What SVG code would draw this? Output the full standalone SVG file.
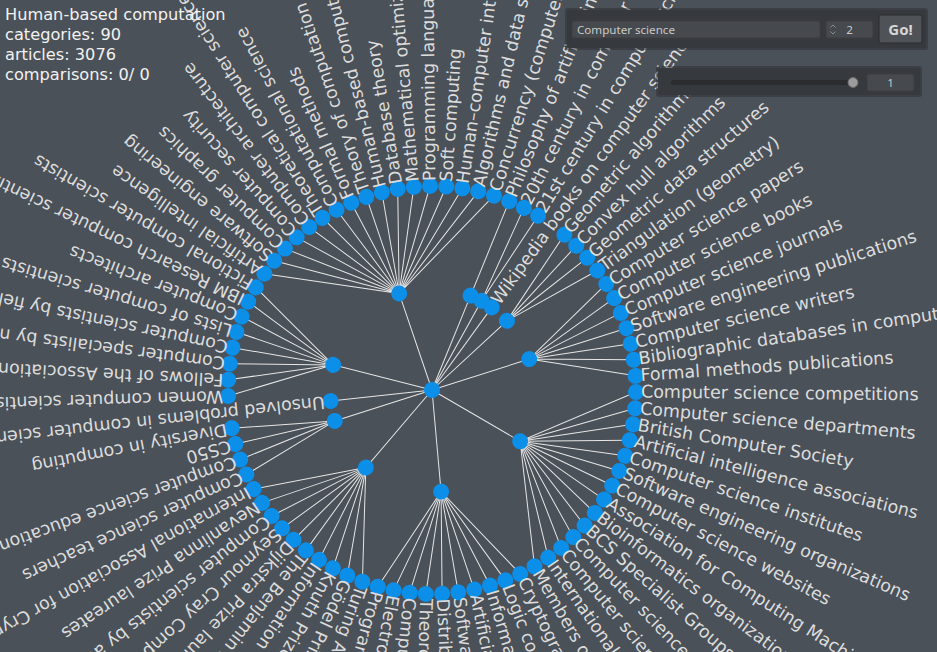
<svg xmlns="http://www.w3.org/2000/svg" xmlns:xlink="http://www.w3.org/1999/xlink" width="937" height="652" viewBox="0 0 937 652">
<style>
.lbl{font-family:"DejaVu Sans",sans-serif;font-size:17.5px;fill:#dcdcdc}
.info{font-family:"DejaVu Sans",sans-serif;font-size:16.2px;fill:#f2f2f2}
.ui{font-family:"Noto Sans","DejaVu Sans",sans-serif;font-size:11.6px;fill:#c9c9c9}
.n{fill:#0b8fe9}
</style>
<defs>
<path id="fan0" d="M432 390H534"/>
<path id="fan1" d="M432 390H534L636 390"/>
<path id="fan2" d="M432 390H534L635.84 381.89M534 390L635.84 398.11"/>
<path id="fan4" d="M432 390H534L634.55 365.72M534 390L635.84 381.89M534 390L635.84 398.11M534 390L634.55 414.28"/>
<path id="fan7" d="M432 390H534L630.22 341.79M534 390L633.43 357.69M534 390L635.36 373.79M534 390L636 390M534 390L635.36 406.21M534 390L633.43 422.31M534 390L630.22 438.21"/>
<path id="fan8" d="M432 390H534L628.15 333.94M534 390L631.98 349.7M534 390L634.55 365.72M534 390L635.84 381.89M534 390L635.84 398.11M534 390L634.55 414.28M534 390L631.98 430.3M534 390L628.15 446.06"/>
<path id="fan10" d="M432 390H534L623.07 318.54M534 390L628.15 333.94M534 390L631.98 349.7M534 390L634.55 365.72M534 390L635.84 381.89M534 390L635.84 398.11M534 390L634.55 414.28M534 390L631.98 430.3M534 390L628.15 446.06M534 390L623.07 461.46"/>
<path id="fan14" d="M432 390H534L609.34 289.17M534 390L616.79 303.58M534 390L623.07 318.54M534 390L628.15 333.94M534 390L631.98 349.7M534 390L634.55 365.72M534 390L635.84 381.89M534 390L635.84 398.11M534 390L634.55 414.28M534 390L631.98 430.3M534 390L628.15 446.06M534 390L623.07 461.46M534 390L616.79 476.42M534 390L609.34 490.83"/>
<path id="fan17" d="M432 390H534L596.08 268.78M534 390L605.19 282.2M534 390L613.21 296.3M534 390L620.08 311M534 390L625.76 326.19M534 390L630.22 341.79M534 390L633.43 357.69M534 390L635.36 373.79M534 390L636 390M534 390L635.36 406.21M534 390L633.43 422.31M534 390L630.22 438.21M534 390L625.76 453.81M534 390L620.08 469M534 390L613.21 483.7M534 390L605.19 497.8M534 390L596.08 511.22"/>
</defs>
<rect width="937" height="652" fill="#4b5158"/>

<g id="connectors" fill="none" stroke="#e6e6e6" stroke-width="1">
<use href="#fan17" transform="rotate(-108.784 432 390)"/>
<use href="#fan1" transform="rotate(-67.771 432 390)"/>
<use href="#fan2" transform="rotate(-60.936 432 390)"/>
<use href="#fan0" transform="rotate(-54.1 432 390)"/>
<use href="#fan4" transform="rotate(-42.708 432 390)"/>
<use href="#fan7" transform="rotate(-17.644 432 390)"/>
<use href="#fan14" transform="rotate(30.205 432 390)"/>
<use href="#fan10" transform="rotate(84.889 432 390)"/>
<use href="#fan10" transform="rotate(130.459 432 390)"/>
<use href="#fan4" transform="rotate(162.358 432 390)"/>
<use href="#fan0" transform="rotate(173.75 432 390)"/>
<use href="#fan8" transform="rotate(-165.747 432 390)"/>
</g>

<g id="inner-nodes">
<g id="node-root"><circle class="n" cx="432" cy="390" r="8"/></g>
<g id="node-areas" transform="rotate(-108.784 432 390)"><circle class="n" cx="534" cy="390" r="8"/></g>
<g id="node-philosophy" transform="rotate(-67.771 432 390)"><circle class="n" cx="534" cy="390" r="8"/></g>
<g id="node-history" transform="rotate(-60.936 432 390)"><circle class="n" cx="534" cy="390" r="8"/></g>
<g id="node-wikipedia-books" transform="rotate(-54.1 432 390)"><circle class="n" cx="534" cy="390" r="8"/><text class="lbl" x="540" y="395.5">Wikipedia books on computer science</text></g>
<g id="node-geometry" transform="rotate(-42.708 432 390)"><circle class="n" cx="534" cy="390" r="8"/></g>
<g id="node-literature" transform="rotate(-17.644 432 390)"><circle class="n" cx="534" cy="390" r="8"/></g>
<g id="node-organizations" transform="rotate(30.205 432 390)"><circle class="n" cx="534" cy="390" r="8"/></g>
<g id="node-conferences" transform="rotate(84.889 432 390)"><circle class="n" cx="534" cy="390" r="8"/></g>
<g id="node-awards" transform="rotate(130.459 432 390)"><circle class="n" cx="534" cy="390" r="8"/></g>
<g id="node-education" transform="rotate(162.358 432 390)"><circle class="n" cx="534" cy="390" r="8"/></g>
<g id="node-unsolved" transform="rotate(173.75 432 390)"><circle class="n" cx="534" cy="390" r="8"/><text class="lbl" x="540" y="395.5">Unsolved problems in computer science</text></g>
<g id="node-scientists" transform="rotate(-165.747 432 390)"><circle class="n" cx="534" cy="390" r="8"/></g>
</g>

<g id="leaves">
<g id="leaf-m28" transform="rotate(-181.70 432 390)"><circle class="n" cx="636" cy="390" r="8"/><text class="lbl" x="641" y="395.5">Women computer scientists</text></g>
<g id="leaf-m27" transform="rotate(-177.14 432 390)"><circle class="n" cx="636" cy="390" r="8"/><text class="lbl" x="641" y="395.5">Fellows of the Association for Computing Machinery</text></g>
<g id="leaf-m26" transform="rotate(-172.58 432 390)"><circle class="n" cx="636" cy="390" r="8"/><text class="lbl" x="641" y="395.5">Computer specialists by nationality</text></g>
<g id="leaf-m25" transform="rotate(-168.03 432 390)"><circle class="n" cx="636" cy="390" r="8"/><text class="lbl" x="641" y="395.5">Computer scientists by field</text></g>
<g id="leaf-m24" transform="rotate(-163.47 432 390)"><circle class="n" cx="636" cy="390" r="8"/><text class="lbl" x="641" y="395.5">Lists of computer scientists</text></g>
<g id="leaf-m23" transform="rotate(-158.91 432 390)"><circle class="n" cx="636" cy="390" r="8"/><text class="lbl" x="641" y="395.5">Computer architects</text></g>
<g id="leaf-m22" transform="rotate(-154.36 432 390)"><circle class="n" cx="636" cy="390" r="8"/><text class="lbl" x="641" y="395.5">IBM Research computer scientists</text></g>
<g id="leaf-m21" transform="rotate(-149.80 432 390)"><circle class="n" cx="636" cy="390" r="8"/><text class="lbl" x="641" y="395.5">Fictional computer scientists</text></g>
<g id="leaf-m20" transform="rotate(-145.24 432 390)"><circle class="n" cx="636" cy="390" r="8"/><text class="lbl" x="641" y="395.5">Artificial intelligence</text></g>
<g id="leaf-m19" transform="rotate(-140.68 432 390)"><circle class="n" cx="636" cy="390" r="8"/><text class="lbl" x="641" y="395.5">Software engineering</text></g>
<g id="leaf-m18" transform="rotate(-136.13 432 390)"><circle class="n" cx="636" cy="390" r="8"/><text class="lbl" x="641" y="395.5">Computer graphics</text></g>
<g id="leaf-m17" transform="rotate(-131.57 432 390)"><circle class="n" cx="636" cy="390" r="8"/><text class="lbl" x="641" y="395.5">Computer security</text></g>
<g id="leaf-m16" transform="rotate(-127.01 432 390)"><circle class="n" cx="636" cy="390" r="8"/><text class="lbl" x="641" y="395.5">Computer architecture</text></g>
<g id="leaf-m15" transform="rotate(-122.46 432 390)"><circle class="n" cx="636" cy="390" r="8"/><text class="lbl" x="641" y="395.5">Theoretical computer science</text></g>
<g id="leaf-m14" transform="rotate(-117.90 432 390)"><circle class="n" cx="636" cy="390" r="8"/><text class="lbl" x="641" y="395.5">Computational science</text></g>
<g id="leaf-m13" transform="rotate(-113.34 432 390)"><circle class="n" cx="636" cy="390" r="8"/><text class="lbl" x="641" y="395.5">Formal methods</text></g>
<g id="leaf-m12" transform="rotate(-108.78 432 390)"><circle class="n" cx="636" cy="390" r="8"/><text class="lbl" x="641" y="395.5">Theory of computation</text></g>
<g id="leaf-m11" transform="rotate(-104.23 432 390)"><circle class="n" cx="636" cy="390" r="8"/><text class="lbl" x="641" y="395.5">Human-based computation</text></g>
<g id="leaf-m10" transform="rotate(-99.67 432 390)"><circle class="n" cx="636" cy="390" r="8"/><text class="lbl" x="641" y="395.5">Database theory</text></g>
<g id="leaf-m9" transform="rotate(-95.11 432 390)"><circle class="n" cx="636" cy="390" r="8"/><text class="lbl" x="641" y="395.5">Mathematical optimization</text></g>
<g id="leaf-m8" transform="rotate(-90.56 432 390)"><circle class="n" cx="636" cy="390" r="8"/><text class="lbl" x="641" y="395.5">Programming languages</text></g>
<g id="leaf-m7" transform="rotate(-86.00 432 390)"><circle class="n" cx="636" cy="390" r="8"/><text class="lbl" x="641" y="395.5">Soft computing</text></g>
<g id="leaf-m6" transform="rotate(-81.44 432 390)"><circle class="n" cx="636" cy="390" r="8"/><text class="lbl" x="641" y="395.5">Human–computer interaction</text></g>
<g id="leaf-m5" transform="rotate(-76.89 432 390)"><circle class="n" cx="636" cy="390" r="8"/><text class="lbl" x="641" y="395.5">Algorithms and data structures</text></g>
<g id="leaf-m4" transform="rotate(-72.33 432 390)"><circle class="n" cx="636" cy="390" r="8"/><text class="lbl" x="641" y="395.5">Concurrency (computer science)</text></g>
<g id="leaf-m3" transform="rotate(-67.77 432 390)"><circle class="n" cx="636" cy="390" r="8"/><text class="lbl" x="641" y="395.5">Philosophy of artificial intelligence</text></g>
<g id="leaf-m2" transform="rotate(-63.21 432 390)"><circle class="n" cx="636" cy="390" r="8"/><text class="lbl" x="641" y="395.5">20th century in computer science</text></g>
<g id="leaf-m1" transform="rotate(-58.66 432 390)"><circle class="n" cx="636" cy="390" r="8"/><text class="lbl" x="641" y="395.5">21st century in computer science</text></g>
<g id="leaf-p1" transform="rotate(-49.54 432 390)"><circle class="n" cx="636" cy="390" r="8"/><text class="lbl" x="641" y="395.5">Geometric algorithms</text></g>
<g id="leaf-p2" transform="rotate(-44.99 432 390)"><circle class="n" cx="636" cy="390" r="8"/><text class="lbl" x="641" y="395.5">Convex hull algorithms</text></g>
<g id="leaf-p3" transform="rotate(-40.43 432 390)"><circle class="n" cx="636" cy="390" r="8"/><text class="lbl" x="641" y="395.5">Geometric data structures</text></g>
<g id="leaf-p4" transform="rotate(-35.87 432 390)"><circle class="n" cx="636" cy="390" r="8"/><text class="lbl" x="641" y="395.5">Triangulation (geometry)</text></g>
<g id="leaf-p5" transform="rotate(-31.32 432 390)"><circle class="n" cx="636" cy="390" r="8"/><text class="lbl" x="641" y="395.5">Computer science papers</text></g>
<g id="leaf-p6" transform="rotate(-26.76 432 390)"><circle class="n" cx="636" cy="390" r="8"/><text class="lbl" x="641" y="395.5">Computer science books</text></g>
<g id="leaf-p7" transform="rotate(-22.20 432 390)"><circle class="n" cx="636" cy="390" r="8"/><text class="lbl" x="641" y="395.5">Computer science journals</text></g>
<g id="leaf-p8" transform="rotate(-17.64 432 390)"><circle class="n" cx="636" cy="390" r="8"/><text class="lbl" x="641" y="395.5">Software engineering publications</text></g>
<g id="leaf-p9" transform="rotate(-13.09 432 390)"><circle class="n" cx="636" cy="390" r="8"/><text class="lbl" x="641" y="395.5">Computer science writers</text></g>
<g id="leaf-p10" transform="rotate(-8.53 432 390)"><circle class="n" cx="636" cy="390" r="8"/><text class="lbl" x="641" y="395.5">Bibliographic databases in computer science</text></g>
<g id="leaf-p11" transform="rotate(-3.97 432 390)"><circle class="n" cx="636" cy="390" r="8"/><text class="lbl" x="641" y="395.5">Formal methods publications</text></g>
<g id="leaf-p12" transform="rotate(0.58 432 390)"><circle class="n" cx="636" cy="390" r="8"/><text class="lbl" x="641" y="395.5">Computer science competitions</text></g>
<g id="leaf-p13" transform="rotate(5.14 432 390)"><circle class="n" cx="636" cy="390" r="8"/><text class="lbl" x="641" y="395.5">Computer science departments</text></g>
<g id="leaf-p14" transform="rotate(9.70 432 390)"><circle class="n" cx="636" cy="390" r="8"/><text class="lbl" x="641" y="395.5">British Computer Society</text></g>
<g id="leaf-p15" transform="rotate(14.26 432 390)"><circle class="n" cx="636" cy="390" r="8"/><text class="lbl" x="641" y="395.5">Artificial intelligence associations</text></g>
<g id="leaf-p16" transform="rotate(18.81 432 390)"><circle class="n" cx="636" cy="390" r="8"/><text class="lbl" x="641" y="395.5">Computer science institutes</text></g>
<g id="leaf-p17" transform="rotate(23.37 432 390)"><circle class="n" cx="636" cy="390" r="8"/><text class="lbl" x="641" y="395.5">Software engineering organizations</text></g>
<g id="leaf-p18" transform="rotate(27.93 432 390)"><circle class="n" cx="636" cy="390" r="8"/><text class="lbl" x="641" y="395.5">Computer science websites</text></g>
<g id="leaf-p19" transform="rotate(32.48 432 390)"><circle class="n" cx="636" cy="390" r="8"/><text class="lbl" x="641" y="395.5">Association for Computing Machinery</text></g>
<g id="leaf-p20" transform="rotate(37.04 432 390)"><circle class="n" cx="636" cy="390" r="8"/><text class="lbl" x="641" y="395.5">Bioinformatics organizations</text></g>
<g id="leaf-p21" transform="rotate(41.60 432 390)"><circle class="n" cx="636" cy="390" r="8"/><text class="lbl" x="641" y="395.5">BCS Specialist Groups</text></g>
<g id="leaf-p22" transform="rotate(46.15 432 390)"><circle class="n" cx="636" cy="390" r="8"/><text class="lbl" x="641" y="395.5">Computer science organizations</text></g>
<g id="leaf-p23" transform="rotate(50.71 432 390)"><circle class="n" cx="636" cy="390" r="8"/><text class="lbl" x="641" y="395.5">Computer science societies</text></g>
<g id="leaf-p24" transform="rotate(55.27 432 390)"><circle class="n" cx="636" cy="390" r="8"/><text class="lbl" x="641" y="395.5">International organizations</text></g>
<g id="leaf-p25" transform="rotate(59.83 432 390)"><circle class="n" cx="636" cy="390" r="8"/><text class="lbl" x="641" y="395.5">Members of organizations</text></g>
<g id="leaf-p26" transform="rotate(64.38 432 390)"><circle class="n" cx="636" cy="390" r="8"/><text class="lbl" x="641" y="395.5">Cryptography conferences</text></g>
<g id="leaf-p27" transform="rotate(68.94 432 390)"><circle class="n" cx="636" cy="390" r="8"/><text class="lbl" x="641" y="395.5">Logic conferences</text></g>
<g id="leaf-p28" transform="rotate(73.50 432 390)"><circle class="n" cx="636" cy="390" r="8"/><text class="lbl" x="641" y="395.5">Information systems conferences</text></g>
<g id="leaf-p29" transform="rotate(78.05 432 390)"><circle class="n" cx="636" cy="390" r="8"/><text class="lbl" x="641" y="395.5">Artificial intelligence conferences</text></g>
<g id="leaf-p30" transform="rotate(82.61 432 390)"><circle class="n" cx="636" cy="390" r="8"/><text class="lbl" x="641" y="395.5">Software engineering conferences</text></g>
<g id="leaf-p31" transform="rotate(87.17 432 390)"><circle class="n" cx="636" cy="390" r="8"/><text class="lbl" x="641" y="395.5">Distributed computing conferences</text></g>
<g id="leaf-p32" transform="rotate(91.73 432 390)"><circle class="n" cx="636" cy="390" r="8"/><text class="lbl" x="641" y="395.5">Theoretical computer science conferences</text></g>
<g id="leaf-p33" transform="rotate(96.28 432 390)"><circle class="n" cx="636" cy="390" r="8"/><text class="lbl" x="641" y="395.5">Computer networking conferences</text></g>
<g id="leaf-p34" transform="rotate(100.84 432 390)"><circle class="n" cx="636" cy="390" r="8"/><text class="lbl" x="641" y="395.5">Electronic design automation conferences</text></g>
<g id="leaf-p35" transform="rotate(105.40 432 390)"><circle class="n" cx="636" cy="390" r="8"/><text class="lbl" x="641" y="395.5">Programming languages conferences</text></g>
<g id="leaf-p36" transform="rotate(109.95 432 390)"><circle class="n" cx="636" cy="390" r="8"/><text class="lbl" x="641" y="395.5">Turing Award laureates</text></g>
<g id="leaf-p37" transform="rotate(114.51 432 390)"><circle class="n" cx="636" cy="390" r="8"/><text class="lbl" x="641" y="395.5">Gödel Prize laureates</text></g>
<g id="leaf-p38" transform="rotate(119.07 432 390)"><circle class="n" cx="636" cy="390" r="8"/><text class="lbl" x="641" y="395.5">Knuth Prize laureates</text></g>
<g id="leaf-p39" transform="rotate(123.63 432 390)"><circle class="n" cx="636" cy="390" r="8"/><text class="lbl" x="641" y="395.5">Information theory awards</text></g>
<g id="leaf-p40" transform="rotate(128.18 432 390)"><circle class="n" cx="636" cy="390" r="8"/><text class="lbl" x="641" y="395.5">The Benjamin Franklin Medal laureates</text></g>
<g id="leaf-p41" transform="rotate(132.74 432 390)"><circle class="n" cx="636" cy="390" r="8"/><text class="lbl" x="641" y="395.5">Dijkstra Prize laureates</text></g>
<g id="leaf-p42" transform="rotate(137.30 432 390)"><circle class="n" cx="636" cy="390" r="8"/><text class="lbl" x="641" y="395.5">Seymour Cray Computer Engineering Award</text></g>
<g id="leaf-p43" transform="rotate(141.85 432 390)"><circle class="n" cx="636" cy="390" r="8"/><text class="lbl" x="641" y="395.5">Computer scientists by award</text></g>
<g id="leaf-p44" transform="rotate(146.41 432 390)"><circle class="n" cx="636" cy="390" r="8"/><text class="lbl" x="641" y="395.5">Nevanlinna Prize laureates</text></g>
<g id="leaf-p45" transform="rotate(150.97 432 390)"><circle class="n" cx="636" cy="390" r="8"/><text class="lbl" x="641" y="395.5">International Association for Cryptologic Research</text></g>
<g id="leaf-p46" transform="rotate(155.53 432 390)"><circle class="n" cx="636" cy="390" r="8"/><text class="lbl" x="641" y="395.5">Computer science teachers</text></g>
<g id="leaf-p47" transform="rotate(160.08 432 390)"><circle class="n" cx="636" cy="390" r="8"/><text class="lbl" x="641" y="395.5">Computer science education</text></g>
<g id="leaf-p48" transform="rotate(164.64 432 390)"><circle class="n" cx="636" cy="390" r="8"/><text class="lbl" x="641" y="395.5">CS50</text></g>
<g id="leaf-p49" transform="rotate(169.20 432 390)"><circle class="n" cx="636" cy="390" r="8"/><text class="lbl" x="641" y="395.5">Diversity in computing</text></g>
</g>

<g id="info">
<text class="info" x="5" y="20">Human-based computation</text>
<text class="info" x="5" y="40">categories: 90</text>
<text class="info" x="5" y="60">articles: 3076</text>
<text class="info" x="5" y="80">comparisons: 0/ 0</text>
</g>

<g id="controls">
<rect x="565" y="8" width="363" height="42" rx="3" fill="#2e3033" opacity="0.5"/>
<rect x="567" y="10" width="359" height="38" rx="2" fill="#36393d"/>
<rect x="572" y="21" width="248" height="17" rx="2" fill="#46494d" stroke="#3c3f43"/>
<text class="ui" x="577" y="34">Computer science</text>
<rect x="826" y="21" width="47" height="17" rx="2" fill="#46494d" stroke="#3c3f43"/>
<path d="M830.5 27.5L833 25L835.5 27.5M830.5 31.5L833 34L835.5 31.5" fill="none" stroke="#8a8d91" stroke-width="1"/>
<text class="ui" x="849.5" y="34" text-anchor="middle">2</text>
<rect x="879" y="15" width="43" height="28" rx="2" fill="#4f5256" stroke="#2a2c2f"/>
<text x="900.5" y="35" text-anchor="middle" font-family="'Noto Sans','DejaVu Sans',sans-serif" font-size="15" font-weight="bold" fill="#d6d6d6">Go!</text>
<rect x="656" y="66" width="266" height="31" rx="3" fill="#2e3033" opacity="0.5"/>
<rect x="658" y="68" width="262" height="27" rx="2" fill="#36393d"/>
<rect x="671" y="80" width="187" height="5" rx="2.5" fill="#2a2c2f"/>
<circle cx="853" cy="82.5" r="5" fill="#9c9c9c" stroke="#6a6a6a"/>
<rect x="867" y="74" width="47" height="17" rx="2" fill="#46494d" stroke="#3c3f43"/>
<text class="ui" x="890.5" y="86.5" text-anchor="middle">1</text>
</g>
</svg>
